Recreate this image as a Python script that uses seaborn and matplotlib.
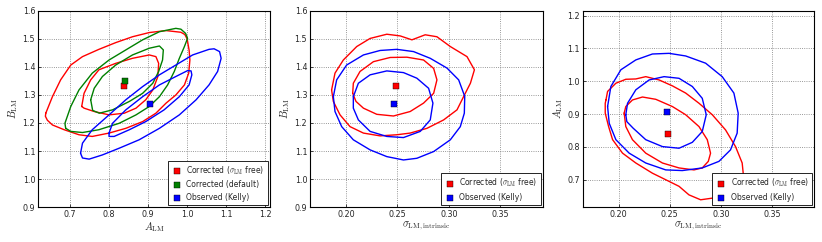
import matplotlib
matplotlib.use('Agg')
import matplotlib.pyplot as plt
import seaborn as sns

# best-fit points (A_LM, B_LM, sigma_LM,intrinsic)
fit_labels = ['Corrected ($\\sigma_{\\rm LM}$ free)', 'Corrected (default)', 'Observed (Kelly)']
fit_colors = ['#ff0000', '#008000', '#0000ff']
fit_A = [0.839, 0.841, 0.905]
fit_B = [1.332, 1.350, 1.267]
fit_sig = [0.2486, None, 0.2470]

# 68% / 95% contours, panel 1: A_LM vs B_LM
ab_red_outer = [(0.638, 1.235), (0.655, 1.294), (0.676, 1.354), (0.702, 1.407), (0.732, 1.437),
                (0.774, 1.463), (0.817, 1.487), (0.860, 1.508), (0.903, 1.523), (0.946, 1.530),
                (0.984, 1.524), (0.994, 1.516), (1.000, 1.500), (1.005, 1.460), (1.007, 1.425),
                (1.004, 1.378), (0.993, 1.336), (0.971, 1.300), (0.946, 1.271), (0.920, 1.235),
                (0.886, 1.205), (0.843, 1.181), (0.800, 1.164), (0.757, 1.152), (0.723, 1.158),
                (0.685, 1.176), (0.655, 1.193), (0.642, 1.210), (0.637, 1.224)]
ab_red_inner = [(0.730, 1.259), (0.736, 1.306), (0.753, 1.354), (0.774, 1.390), (0.817, 1.413),
                (0.860, 1.431), (0.903, 1.443), (0.920, 1.437), (0.927, 1.413), (0.925, 1.366),
                (0.912, 1.318), (0.894, 1.283), (0.869, 1.253), (0.839, 1.235), (0.800, 1.229),
                (0.762, 1.241), (0.736, 1.253)]
ab_green_outer = [(0.689, 1.181), (0.687, 1.199), (0.702, 1.259), (0.723, 1.318), (0.757, 1.378),
                  (0.800, 1.425), (0.843, 1.461), (0.886, 1.497), (0.929, 1.526), (0.971, 1.538),
                  (0.984, 1.535), (0.996, 1.520), (1.001, 1.502), (0.993, 1.473), (0.980, 1.431),
                  (0.967, 1.384), (0.950, 1.336), (0.929, 1.294), (0.903, 1.259), (0.869, 1.229),
                  (0.826, 1.199), (0.774, 1.176), (0.732, 1.166), (0.702, 1.170)]
ab_green_inner = [(0.753, 1.283), (0.762, 1.324), (0.783, 1.366), (0.817, 1.407), (0.860, 1.443),
                  (0.903, 1.467), (0.929, 1.475), (0.939, 1.461), (0.937, 1.425), (0.927, 1.384),
                  (0.912, 1.342), (0.886, 1.306), (0.852, 1.277), (0.809, 1.247), (0.775, 1.235),
                  (0.758, 1.245)]
ab_blue_outer = [(0.727, 1.092), (0.732, 1.128), (0.757, 1.176), (0.800, 1.229), (0.843, 1.283),
                 (0.886, 1.330), (0.929, 1.372), (0.971, 1.407), (1.014, 1.443), (1.056, 1.463),
                 (1.069, 1.465), (1.083, 1.455), (1.087, 1.431), (1.078, 1.384), (1.056, 1.336),
                 (1.023, 1.283), (0.980, 1.229), (0.929, 1.181), (0.877, 1.140), (0.826, 1.110),
                 (0.783, 1.086), (0.749, 1.071), (0.732, 1.075)]
ab_blue_inner = [(0.800, 1.164), (0.809, 1.199), (0.843, 1.247), (0.886, 1.294), (0.929, 1.336),
                 (0.971, 1.366), (1.001, 1.387), (1.010, 1.386), (1.012, 1.372), (1.005, 1.336),
                 (0.980, 1.294), (0.941, 1.247), (0.894, 1.205), (0.852, 1.176), (0.813, 1.152),
                 (0.800, 1.152)]

# panel 2: sigma vs B_LM
sb_red_outer = [(0.1860, 1.318), (0.1893, 1.378), (0.1974, 1.425), (0.2104, 1.473), (0.2234, 1.502),
                (0.2396, 1.517), (0.2526, 1.511), (0.2640, 1.497), (0.2769, 1.515), (0.2883, 1.508),
                (0.3013, 1.473), (0.3175, 1.437), (0.3247, 1.390), (0.3208, 1.342), (0.3143, 1.295),
                (0.3078, 1.247), (0.2948, 1.211), (0.2786, 1.181), (0.2623, 1.164), (0.2494, 1.158),
                (0.2331, 1.154), (0.2169, 1.164), (0.2039, 1.187), (0.1942, 1.229), (0.1877, 1.277)]
sb_red_inner = [(0.2065, 1.306), (0.2071, 1.342), (0.2136, 1.384), (0.2266, 1.419), (0.2429, 1.434),
                (0.2591, 1.435), (0.2753, 1.425), (0.2851, 1.395), (0.2883, 1.354), (0.2851, 1.306),
                (0.2753, 1.271), (0.2623, 1.241), (0.2461, 1.225), (0.2299, 1.231), (0.2169, 1.253),
                (0.2097, 1.277)]
sb_blue_outer = [(0.1877, 1.294), (0.1909, 1.354), (0.2006, 1.407), (0.2169, 1.443), (0.2331, 1.459),
                 (0.2494, 1.463), (0.2656, 1.455), (0.2818, 1.431), (0.2981, 1.396), (0.3094, 1.354),
                 (0.3153, 1.295), (0.3149, 1.235), (0.3110, 1.187), (0.3013, 1.140), (0.2851, 1.098),
                 (0.2688, 1.074), (0.2558, 1.068), (0.2396, 1.080), (0.2234, 1.104), (0.2071, 1.140),
                 (0.1958, 1.187), (0.1893, 1.241)]
sb_blue_inner = [(0.2071, 1.294), (0.2120, 1.342), (0.2234, 1.372), (0.2396, 1.386), (0.2558, 1.380),
                 (0.2688, 1.360), (0.2802, 1.324), (0.2844, 1.271), (0.2818, 1.211), (0.2721, 1.170),
                 (0.2558, 1.148), (0.2396, 1.152), (0.2234, 1.170), (0.2120, 1.211), (0.2071, 1.253)]

# panel 3: sigma vs A_LM
sa_red_outer = [(0.1877, 0.943), (0.1893, 0.969), (0.1974, 0.994), (0.2071, 1.006), (0.2169, 1.007),
                (0.2266, 1.014), (0.2396, 1.004), (0.2526, 0.986), (0.2656, 0.964), (0.2786, 0.933),
                (0.2916, 0.898), (0.3045, 0.852), (0.3143, 0.801), (0.3208, 0.751), (0.3218, 0.720),
                (0.3201, 0.680), (0.3192, 0.644), (0.3045, 0.642), (0.2916, 0.644), (0.2802, 0.639),
                (0.2688, 0.654), (0.2591, 0.680), (0.2494, 0.695), (0.2331, 0.720), (0.2169, 0.751),
                (0.2039, 0.781), (0.1942, 0.822), (0.1903, 0.862), (0.1870, 0.903), (0.1870, 0.933)]
sa_red_inner = [(0.2055, 0.903), (0.2071, 0.923), (0.2136, 0.943), (0.2234, 0.952), (0.2364, 0.945),
                (0.2526, 0.923), (0.2656, 0.898), (0.2786, 0.862), (0.2867, 0.822), (0.2899, 0.781),
                (0.2877, 0.756), (0.2818, 0.736), (0.2737, 0.730), (0.2591, 0.736), (0.2429, 0.751),
                (0.2266, 0.781), (0.2136, 0.822), (0.2071, 0.862)]
sa_blue_outer = [(0.1893, 0.923), (0.1925, 0.984), (0.2023, 1.035), (0.2169, 1.065), (0.2331, 1.083),
                 (0.2494, 1.085), (0.2656, 1.077), (0.2851, 1.055), (0.3013, 1.014), (0.3127, 0.964),
                 (0.3169, 0.903), (0.3159, 0.842), (0.3094, 0.791), (0.2981, 0.756), (0.2818, 0.736),
                 (0.2623, 0.728), (0.2461, 0.730), (0.2266, 0.751), (0.2104, 0.781), (0.1974, 0.822),
                 (0.1909, 0.872)]
sa_blue_inner = [(0.2071, 0.898), (0.2088, 0.933), (0.2169, 0.974), (0.2299, 1.004), (0.2445, 1.014),
                 (0.2591, 1.009), (0.2721, 0.984), (0.2818, 0.948), (0.2857, 0.898), (0.2818, 0.847),
                 (0.2721, 0.814), (0.2591, 0.796), (0.2429, 0.801), (0.2266, 0.822), (0.2143, 0.857),
                 (0.2081, 0.877)]

sns.set_theme(style='ticks')
plt.rcParams.update({
    'font.family': ['DejaVu Sans'],
    'mathtext.fontset': 'cm',
    'axes.edgecolor': 'black',
    'axes.linewidth': 0.8,
    'grid.color': '#777777',
    'grid.linestyle': ':',
    'grid.linewidth': 0.6,
    'xtick.direction': 'in',
    'ytick.direction': 'in',
    'xtick.major.size': 2.5,
    'ytick.major.size': 2.5,
    'xtick.major.width': 0.6,
    'ytick.major.width': 0.6,
    'xtick.labelsize': 5.8,
    'ytick.labelsize': 5.8,
    'axes.labelsize': 7.5,
})

RED, GREEN, BLUE = fit_colors


def draw_contour(ax, pts, color):
    pts = list(pts) + [pts[0]]
    xs = [p[0] for p in pts]
    ys = [p[1] for p in pts]
    sns.lineplot(x=xs, y=ys, sort=False, estimator=None, color=color, lw=1.0, ax=ax,
                 solid_joinstyle='round')


def finish(ax, xlim, ylim, xticks, yticks, xlabel, ylabel):
    ax.set_xlim(*xlim)
    ax.set_ylim(*ylim)
    ax.set_xticks(xticks)
    ax.set_yticks(yticks)
    ax.set_xlabel(xlabel, labelpad=1)
    ax.set_ylabel(ylabel, labelpad=2)
    ax.tick_params(pad=2)
    ax.grid(True)
    ax.legend(loc='lower right', fontsize=5.5, frameon=True, fancybox=False, framealpha=1,
              edgecolor='black', borderaxespad=0.25, handletextpad=0.5, borderpad=0.45,
              labelspacing=0.45, scatterpoints=1, handlelength=1.5)
    ax.get_legend().get_frame().set_linewidth(0.6)


fig = plt.figure(figsize=(8.22, 2.42), dpi=100)
ax1 = fig.add_axes([0.0462, 0.1446, 0.2822, 0.810])
ax2 = fig.add_axes([0.3771, 0.1446, 0.2831, 0.810])
ax3 = fig.add_axes([0.7089, 0.1446, 0.2814, 0.810])

# panel 1
for pts, c in [(ab_red_outer, RED), (ab_red_inner, RED), (ab_green_outer, GREEN),
               (ab_green_inner, GREEN), (ab_blue_outer, BLUE), (ab_blue_inner, BLUE)]:
    draw_contour(ax1, pts, c)
for i in range(3):
    sns.scatterplot(x=[fit_A[i]], y=[fit_B[i]], marker='s', s=14, color=fit_colors[i],
                    edgecolor='black', linewidth=0.3, label=fit_labels[i], ax=ax1, zorder=5)
finish(ax1, (0.618, 1.212), (0.9, 1.6), [0.7, 0.8, 0.9, 1.0, 1.1, 1.2],
       [0.9, 1.0, 1.1, 1.2, 1.3, 1.4, 1.5, 1.6], '$A_{\\rm LM}$', '$B_{\\rm LM}$')

# panel 2
for pts, c in [(sb_red_outer, RED), (sb_red_inner, RED), (sb_blue_outer, BLUE), (sb_blue_inner, BLUE)]:
    draw_contour(ax2, pts, c)
for i in [0, 2]:
    sns.scatterplot(x=[fit_sig[i]], y=[fit_B[i]], marker='s', s=14, color=fit_colors[i],
                    edgecolor='black', linewidth=0.3, label=fit_labels[i], ax=ax2, zorder=5)
finish(ax2, (0.165, 0.391), (0.9, 1.6), [0.20, 0.25, 0.30, 0.35],
       [0.9, 1.0, 1.1, 1.2, 1.3, 1.4, 1.5, 1.6], '$\\sigma_{\\rm LM,intrinsic}$', '$B_{\\rm LM}$')
ax2.set_xticklabels(['0.20', '0.25', '0.30', '0.35'])

# panel 3
for pts, c in [(sa_red_outer, RED), (sa_red_inner, RED), (sa_blue_outer, BLUE), (sa_blue_inner, BLUE)]:
    draw_contour(ax3, pts, c)
for i in [0, 2]:
    sns.scatterplot(x=[fit_sig[i]], y=[fit_A[i]], marker='s', s=14, color=fit_colors[i],
                    edgecolor='black', linewidth=0.3, label=fit_labels[i], ax=ax3, zorder=5)
finish(ax3, (0.165, 0.391), (0.617, 1.214), [0.20, 0.25, 0.30, 0.35],
       [0.7, 0.8, 0.9, 1.0, 1.1, 1.2], '$\\sigma_{\\rm LM,intrinsic}$', '$A_{\\rm LM}$')
ax3.set_xticklabels(['0.20', '0.25', '0.30', '0.35'])

fig.savefig('out.png', dpi=100)
